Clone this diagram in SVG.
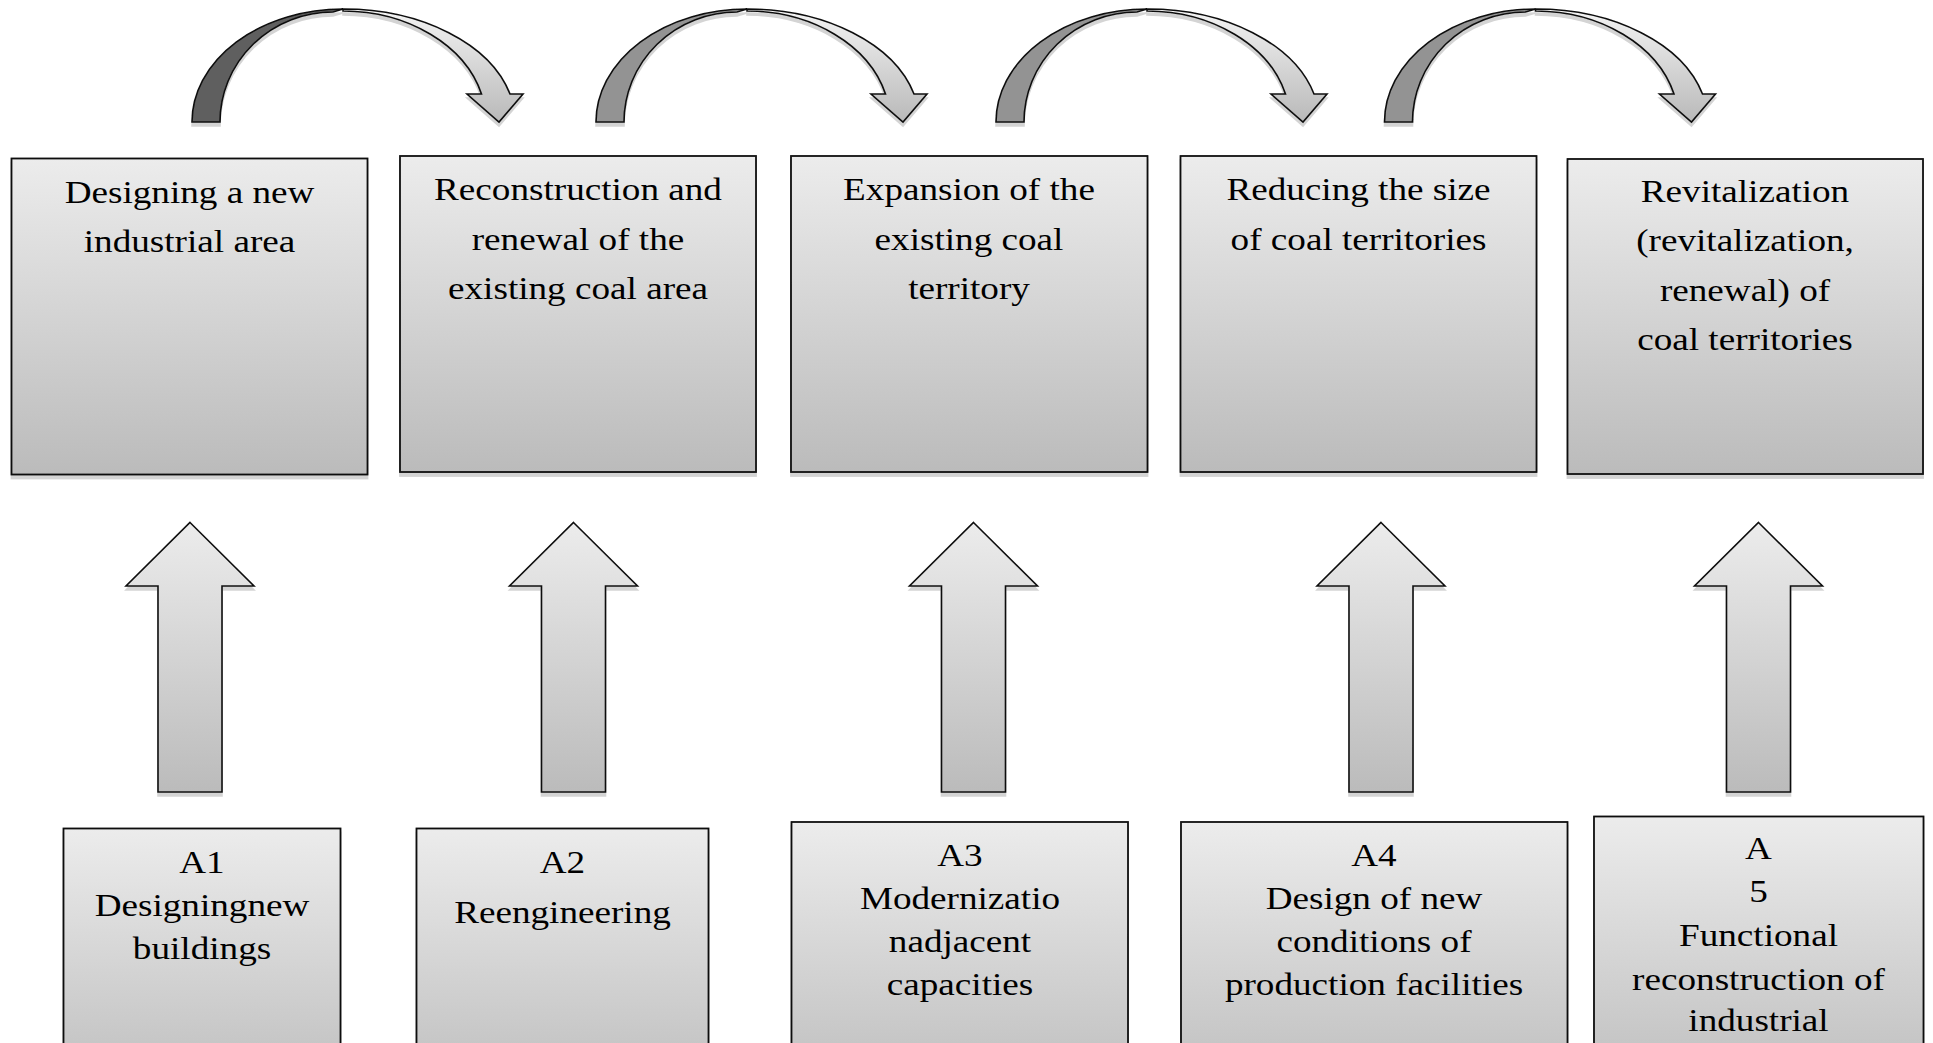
<svg xmlns="http://www.w3.org/2000/svg" width="1933" height="1043" viewBox="0 0 1933 1043">
<style>
.box{fill:url(#gBox);stroke:#111;stroke-width:1.8;filter:url(#sh)}
.varr{fill:url(#gBox);stroke:#111;stroke-width:1.6;stroke-linejoin:miter;filter:url(#sh)}
.light{fill:url(#gLight);stroke:#111;stroke-width:1.6;stroke-linejoin:miter}
.dark1{fill:#5f5f5f;stroke:#111;stroke-width:1.6}
.dark2{fill:#939393;stroke:#111;stroke-width:1.6}
.t{font-family:"Liberation Serif","Times New Roman",serif;font-size:31.5px;fill:#000;text-anchor:middle}
</style>
<defs>
<linearGradient id="gBox" x1="0" y1="0" x2="0" y2="1">
<stop offset="0" stop-color="#ececec"/>
<stop offset="1" stop-color="#bbbbbb"/>
</linearGradient>
<linearGradient id="gLight" x1="0" y1="0" x2="0" y2="1">
<stop offset="0" stop-color="#f4f4f4"/>
<stop offset="1" stop-color="#b9b9b9"/>
</linearGradient>
<filter id="sh" x="-5%" y="-5%" width="110%" height="115%">
<feDropShadow dx="0" dy="4" stdDeviation="0.7" flood-color="#000" flood-opacity="0.17"/>
</filter>
<g id="curved">
<path class="light" d="M151,9 A172,113 0 0 1 318,94 L331,94 L307,122 L275,94 L289.5,94 A143.5,111 0 0 0 151,11 Z"/>
</g>
</defs>

<g id="connectors">
<g id="carrow1" transform="translate(192 0)" filter="url(#sh)">
<path class="dark1" d="M0,122 A151,113 0 0 1 151,9 L141,12 A113,110 0 0 0 28,122 Z"/>
<use href="#curved"/>
</g>
<g id="carrow2" transform="translate(596 0)" filter="url(#sh)">
<path class="dark2" d="M0,122 A151,113 0 0 1 151,9 L141,12 A113,110 0 0 0 28,122 Z"/>
<use href="#curved"/>
</g>
<g id="carrow3" transform="translate(996 0)" filter="url(#sh)">
<path class="dark2" d="M0,122 A151,113 0 0 1 151,9 L141,12 A113,110 0 0 0 28,122 Z"/>
<use href="#curved"/>
</g>
<g id="carrow4" transform="translate(1384.5 0)" filter="url(#sh)">
<path class="dark2" d="M0,122 A151,113 0 0 1 151,9 L141,12 A113,110 0 0 0 28,122 Z"/>
<use href="#curved"/>
</g>
<path id="uarrow1" class="varr" d="M190,522.5 L254,586 L222,586 L222,792 L158,792 L158,586 L126,586 Z"/>
<path id="uarrow2" class="varr" d="M573.5,522.5 L637.5,586 L605.5,586 L605.5,792 L541.5,792 L541.5,586 L509.5,586 Z"/>
<path id="uarrow3" class="varr" d="M973.5,522.5 L1037.5,586 L1005.5,586 L1005.5,792 L941.5,792 L941.5,586 L909.5,586 Z"/>
<path id="uarrow4" class="varr" d="M1381,522.5 L1445,586 L1413,586 L1413,792 L1349,792 L1349,586 L1317,586 Z"/>
<path id="uarrow5" class="varr" d="M1758.5,522.5 L1822.5,586 L1790.5,586 L1790.5,792 L1726.5,792 L1726.5,586 L1694.5,586 Z"/>
</g>

<g id="box1">
<rect class="box" x="11.5" y="158.5" width="356" height="316"/>
<text class="t" transform="translate(189.5 0) scale(1.18 1)"><tspan x="0" y="203">Designing a new</tspan><tspan x="0" y="252">industrial area</tspan></text>
</g>
<g id="box2">
<rect class="box" x="400" y="156" width="356" height="316"/>
<text class="t" transform="translate(578 0) scale(1.18 1)"><tspan x="0" y="200">Reconstruction and</tspan><tspan x="0" y="250">renewal of the</tspan><tspan x="0" y="299">existing coal area</tspan></text>
</g>
<g id="box3">
<rect class="box" x="791" y="156" width="356.5" height="316"/>
<text class="t" transform="translate(969 0) scale(1.18 1)"><tspan x="0" y="200">Expansion of the</tspan><tspan x="0" y="250">existing coal</tspan><tspan x="0" y="299">territory</tspan></text>
</g>
<g id="box4">
<rect class="box" x="1180.5" y="156" width="356" height="316"/>
<text class="t" transform="translate(1358.5 0) scale(1.18 1)"><tspan x="0" y="200">Reducing the size</tspan><tspan x="0" y="250">of coal territories</tspan></text>
</g>
<g id="box5">
<rect class="box" x="1567.5" y="159" width="355.5" height="315"/>
<text class="t" transform="translate(1745 0) scale(1.18 1)"><tspan x="0" y="202">Revitalization</tspan><tspan x="0" y="251">(revitalization,</tspan><tspan x="0" y="301">renewal) of</tspan><tspan x="0" y="350">coal territories</tspan></text>
</g>

<g id="a1">
<rect class="box" x="63.5" y="828.5" width="277" height="280"/>
<text class="t" transform="translate(202 0) scale(1.18 1)"><tspan x="0" y="873">A1</tspan><tspan x="0" y="916">Designingnew</tspan><tspan x="0" y="959">buildings</tspan></text>
</g>
<g id="a2">
<rect class="box" x="416.5" y="828.5" width="292" height="280"/>
<text class="t" transform="translate(562.5 0) scale(1.18 1)"><tspan x="0" y="873">A2</tspan><tspan x="0" y="923">Reengineering</tspan></text>
</g>
<g id="a3">
<rect class="box" x="791.5" y="822" width="336.5" height="286"/>
<text class="t" transform="translate(960 0) scale(1.18 1)"><tspan x="0" y="866">A3</tspan><tspan x="0" y="909">Modernizatio</tspan><tspan x="0" y="952">nadjacent</tspan><tspan x="0" y="995">capacities</tspan></text>
</g>
<g id="a4">
<rect class="box" x="1181" y="822" width="386.5" height="286"/>
<text class="t" transform="translate(1374 0) scale(1.18 1)"><tspan x="0" y="866">A4</tspan><tspan x="0" y="909">Design of new</tspan><tspan x="0" y="952">conditions of</tspan><tspan x="0" y="995">production facilities</tspan></text>
</g>
<g id="a5">
<rect class="box" x="1594" y="816.5" width="329.5" height="292"/>
<text class="t" transform="translate(1758.5 0) scale(1.18 1)"><tspan x="0" y="859">A</tspan><tspan x="0" y="902">5</tspan><tspan x="0" y="946">Functional</tspan><tspan x="0" y="990">reconstruction of</tspan><tspan x="0" y="1031">industrial</tspan></text>
</g>
</svg>
